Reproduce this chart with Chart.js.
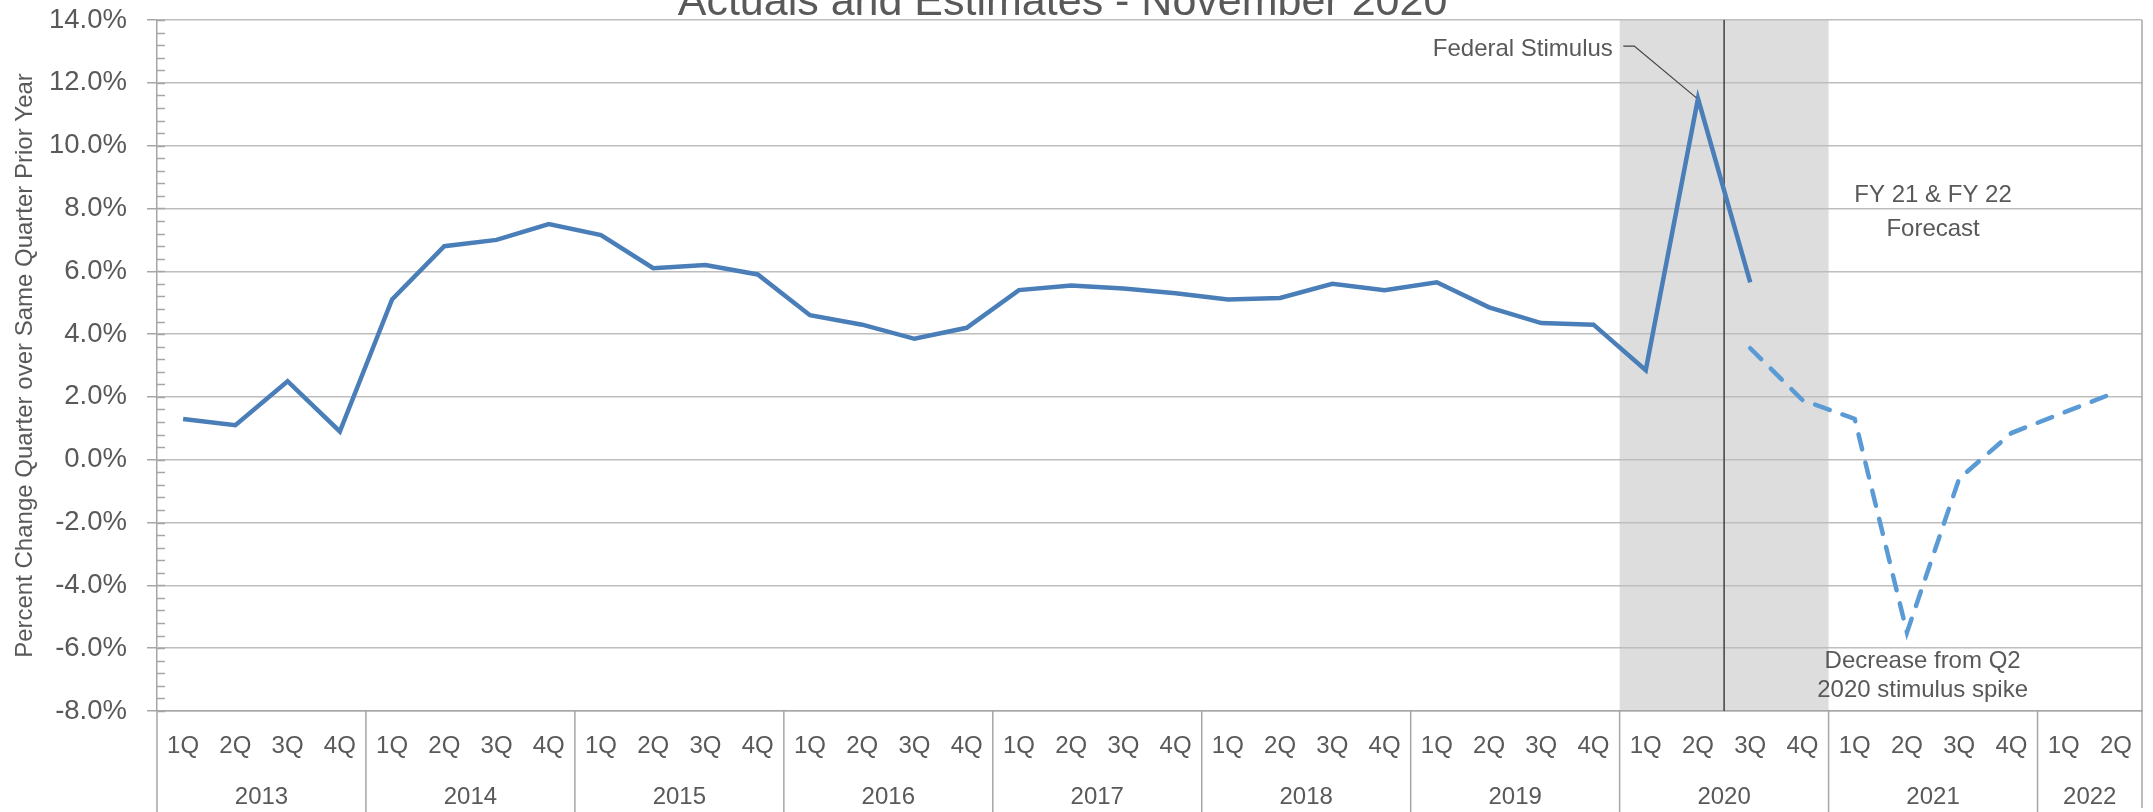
<!DOCTYPE html>
<html>
<head>
<meta charset="utf-8">
<title>Actuals and Estimates - November 2020</title>
<script src="https://cdn.jsdelivr.net/npm/chart.js@4/dist/chart.umd.min.js"></script>
<style>
  html, body { margin: 0; padding: 0; background: #fff; }
  #wrap { width: 2153px; height: 812px; overflow: hidden; }
</style>
</head>
<body>
<div id="wrap"><canvas id="grafico" width="2153" height="812"></canvas></div>
<script>
// quarter labels, 2013 1Q .. 2022 2Q
const quarters = [
  "1Q", "2Q", "3Q", "4Q",
  "1Q", "2Q", "3Q", "4Q",
  "1Q", "2Q", "3Q", "4Q",
  "1Q", "2Q", "3Q", "4Q",
  "1Q", "2Q", "3Q", "4Q",
  "1Q", "2Q", "3Q", "4Q",
  "1Q", "2Q", "3Q", "4Q",
  "1Q", "2Q", "3Q", "4Q",
  "1Q", "2Q", "3Q", "4Q",
  "1Q", "2Q"
];
const years = ["2013", "2014", "2015", "2016", "2017", "2018", "2019", "2020", "2021", "2022"];

// percent change vs same quarter prior year
const actuals = [
  1.3, 1.1, 2.5, 0.9,
  5.1, 6.8, 7.0, 7.5,
  7.15, 6.1, 6.2, 5.9,
  4.6, 4.3, 3.85, 4.2,
  5.4, 5.55, 5.45, 5.3,
  5.1, 5.15, 5.6, 5.4,
  5.65, 4.85, 4.35, 4.3,
  2.85, 11.5, 5.65, null,
  null, null, null, null,
  null, null
];
const forecast = [
  null, null, null, null,
  null, null, null, null,
  null, null, null, null,
  null, null, null, null,
  null, null, null, null,
  null, null, null, null,
  null, null, null, null,
  null, null, 3.55, 1.9,
  1.3, -5.5, -0.6, 0.85,
  1.5, 2.15
];

const yMin = -8;
const yMax = 14;
const shadedYear = "2020";
const fiscalYearBreak = 29.5; // between 2020 2Q and 2020 3Q

const textGray = "#595959";
const gridGray = "#BDBDBD";
const axisGray = "#A6A6A6";
const family = '"Liberation Sans", Arial, sans-serif';

document.addEventListener("DOMContentLoaded", () => {
  // year groups come from the quarter labels: a new year starts at each 1Q
  const yearGroups = [];
  quarters.forEach((q, i) => {
    if (q === "1Q") yearGroups.push({ year: years[yearGroups.length], first: i, last: i });
    else yearGroups[yearGroups.length - 1].last = i;
  });
  const yearCenters = yearGroups.map(g => (g.first + g.last) / 2);

  function line(ctx, x0, y0, x1, y1) {
    ctx.beginPath();
    ctx.moveTo(x0, y0);
    ctx.lineTo(x1, y1);
    ctx.stroke();
  }

  const decorations = {
    id: "decorations",
    beforeDraw(chart) {
      const { ctx, chartArea: area, scales } = chart;
      const band = yearGroups.find(g => g.year === shadedYear);
      const x0 = scales.ano.getPixelForValue(band.first - 0.5);
      const x1 = scales.ano.getPixelForValue(band.last + 0.5);
      ctx.save();
      ctx.fillStyle = "#DDDDDD";
      ctx.fillRect(x0, area.top, x1 - x0, area.bottom - area.top);
      ctx.restore();
    },
    beforeDatasetsDraw(chart) {
      const { ctx, chartArea: area, scales } = chart;
      ctx.save();
      // fiscal year divider
      ctx.strokeStyle = "#404040";
      ctx.lineWidth = 1.5;
      const xd = scales.ano.getPixelForValue(fiscalYearBreak);
      line(ctx, xd, area.top, xd, area.bottom);

      // minor ticks inside the value axis
      ctx.strokeStyle = axisGray;
      ctx.lineWidth = 1.5;
      for (let k = 0; k <= (yMax - yMin) / 0.4 + 0.01; k++) {
        const py = Math.round(scales.y.getPixelForValue(yMin + k * 0.4)) + 0.5;
        line(ctx, area.left, py, area.left + 8, py);
      }

      // year separators in the category area, plot borders
      yearGroups.forEach(g => {
        const px = scales.ano.getPixelForValue(g.first - 0.5);
        line(ctx, px, area.bottom, px, chart.height);
      });
      const xr = scales.ano.getPixelForValue(quarters.length - 0.5);
      line(ctx, xr, area.top, xr, chart.height - 4);
      ctx.restore();
    },
    afterDatasetsDraw(chart) {
      const { ctx, scales } = chart;
      const px = v => scales.ano.getPixelForValue(v);
      const py = v => scales.y.getPixelForValue(v);
      ctx.save();
      ctx.fillStyle = textGray;
      ctx.font = "24px " + family;
      ctx.textBaseline = "alphabetic";

      // Federal Stimulus callout
      const peak = actuals.indexOf(Math.max(...actuals.filter(v => v !== null)));
      ctx.textAlign = "right";
      ctx.fillText("Federal Stimulus", px(peak - 1.63), py(12.85));
      ctx.strokeStyle = "#404040";
      ctx.lineWidth = 1.2;
      ctx.beginPath();
      ctx.moveTo(px(peak - 1.43), py(13.17));
      ctx.lineTo(px(peak - 1.22), py(13.17));
      ctx.lineTo(px(peak - 0.03), py(11.52));
      ctx.stroke();

      ctx.textAlign = "center";
      ctx.fillText("FY 21 & FY 22", px(33.5), py(8.2));
      ctx.fillText("Forecast", px(33.5), py(7.12));
      ctx.fillText("Decrease from Q2", px(33.3), py(-6.64));
      ctx.fillText("2020 stimulus spike", px(33.3), py(-7.56));

      // chart title, cut by the top edge as in the source
      ctx.font = "43px " + family;
      ctx.fillText("Actuals and Estimates - November 2020", chart.width / 2 - 14, 15);
      ctx.restore();
    }
  };

  new Chart(document.getElementById("grafico"), {
    type: "line",
    data: {
      labels: quarters,
      datasets: [
        {
          label: "Actuals",
          data: actuals,
          borderColor: "#4A7EB8",
          borderWidth: 4.5,
          pointRadius: 0,
          tension: 0,
          fill: false
        },
        {
          label: "Estimates",
          data: forecast,
          borderColor: "#5B9BD5",
          borderWidth: 4.5,
          borderDash: [15.5, 13.5],
          borderCapStyle: "round",
          pointRadius: 0,
          tension: 0,
          fill: false
        }
      ]
    },
    options: {
      responsive: false,
      animation: false,
      devicePixelRatio: 1,
      layout: { padding: { top: 20, right: 8, left: 0, bottom: 0 } },
      plugins: {
        legend: { display: false },
        tooltip: { enabled: false },
        title: { display: false }
      },
      scales: {
        x: {
          type: "category",
          position: "bottom",
          offset: true,
          weight: 0,
          grid: { display: false, drawTicks: false },
          border: { display: true, color: axisGray, width: 1.5 },
          ticks: {
            color: textGray,
            font: { family: family, size: 24 },
            padding: 21,
            maxRotation: 0,
            autoSkip: false
          },
          afterFit: s => { s.height = 50; }
        },
        ano: {
          type: "linear",
          position: "bottom",
          weight: 1,
          min: -0.5,
          max: quarters.length - 0.5,
          grid: { display: false, drawTicks: false },
          border: { display: false },
          afterBuildTicks: s => { s.ticks = yearCenters.map(v => ({ value: v })); },
          ticks: {
            color: textGray,
            font: { family: family, size: 24 },
            padding: 22,
            maxRotation: 0,
            autoSkip: false,
            callback: (v, i) => years[i]
          },
          afterFit: s => { s.height = 51; }
        },
        y: {
          min: yMin,
          max: yMax,
          ticks: {
            stepSize: 2,
            color: textGray,
            font: { family: family, size: 27.5 },
            padding: 20,
            callback: v => v.toFixed(1) + "%"
          },
          grid: { color: gridGray, lineWidth: 1.5, tickLength: 10, tickColor: axisGray },
          border: { color: axisGray, width: 1.5 },
          title: {
            display: true,
            text: "Percent Change Quarter over Same Quarter Prior Year",
            color: textGray,
            font: { family: family, size: 24 },
            padding: { top: 10.5, bottom: 0 }
          },
          afterFit: s => {
            s.width = 157;
            s.paddingTop = 0;
            s.paddingBottom = 0;
          }
        }
      }
    },
    plugins: [decorations]
  });
});
</script>
</body>
</html>
